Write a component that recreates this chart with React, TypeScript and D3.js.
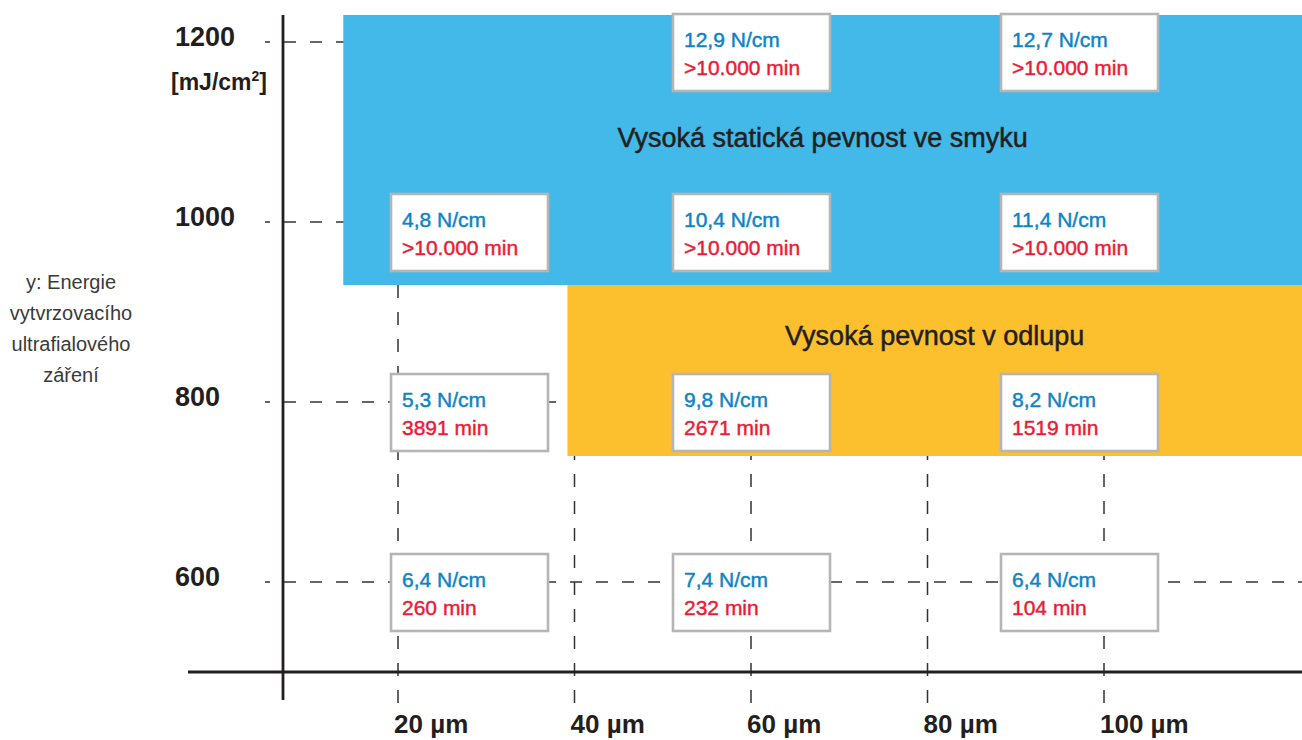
import * as d3 from "d3";
import * as React from "react";

// energy levels (mJ/cm²) and film thickness ticks (µm)
const energyLevels = [1200, 1000, 800, 600];
const thicknessTicks = [20, 40, 60, 80, 100];
const boxColumns = [20, 60, 100];

// peel strength N/cm per energy row, per box column (null = no box)
const peelStrength: (number | null)[][] = [
    [null, 12.9, 12.7],
    [4.8, 10.4, 11.4],
    [5.3, 9.8, 8.2],
    [6.4, 7.4, 6.4],
];
// static shear in minutes; 10000 means ">10.000"
const shearMinutes: (number | null)[][] = [
    [null, 10000, 10000],
    [10000, 10000, 10000],
    [3891, 2671, 1519],
    [260, 232, 104],
];

const bandNames = ["Vysoká statická pevnost ve smyku", "Vysoká pevnost v odlupu"];
const bandThickness = [[13.8, 122.5], [39.2, 122.5]];
const bandEnergy = [[930, 1230], [740, 930]];
const bandLabelEnergy = [1083, 863];

const yTitle = ["y: Energie", "vytvrzovacího", "ultrafialového", "záření"];

const W = 1302;
const H = 740;
const FONT = "'Liberation Sans', Arial, sans-serif";
const DARK = "#231f20";
const BLUE_BAND = "#42b9e9";
const ORANGE_BAND = "#fcbf2d";
const BLUE_TEXT = "#0b84c7";
const RED_TEXT = "#ec1b35";

// box layout (pixels relative to column grid line)
const boxOffsets = [-7, -78, -103];
const boxW = 157;
const boxH = 77;

const cz = d3.formatLocale({ decimal: ",", thousands: ".", grouping: [3], currency: ["", " Kč"] });
const fmtPeel = cz.format(".1f");
const fmtBig = cz.format(",d");
const fmtMin = (v: number) => (v >= 10000 ? ">" + fmtBig(v) : d3.format("d")(v));

export default function App(): JSX.Element {
    const x = d3.scaleLinear().domain([20, 100]).range([398, 1104]);
    const y = d3.scaleLinear().domain([600, 1200]).range([582, 42]);

    const axisX = 283;
    const axisY = y(500);

    return (
        <svg width={W} height={H} style={{ position: "absolute", left: 0, top: 0, background: "#fff" }}
            fontFamily={FONT}>
            {/* vertical dashed grid */}
            {thicknessTicks.map(t => (
                <line key={"v" + t} x1={x(t)} x2={x(t)} y1={y(1230)} y2={705}
                    stroke="#333" strokeWidth={1.5} strokeDasharray="13 14" />
            ))}
            {/* horizontal dashed grid */}
            {energyLevels.map(e => (
                <line key={"h" + e} x1={265} x2={W} y1={y(e)} y2={y(e)}
                    stroke="#333" strokeWidth={1.5} strokeDasharray="12 14" strokeDashoffset={7} />
            ))}

            {/* bands */}
            {bandNames.map((n, i) => (
                <rect key={"b" + i}
                    x={x(bandThickness[i][0])} y={y(bandEnergy[i][1])}
                    width={x(bandThickness[i][1]) - x(bandThickness[i][0])}
                    height={y(bandEnergy[i][0]) - y(bandEnergy[i][1])}
                    fill={i === 0 ? BLUE_BAND : ORANGE_BAND} />
            ))}
            {bandNames.map((n, i) => (
                <text key={"bl" + i}
                    x={(x(bandThickness[i][0]) + Math.min(W, x(bandThickness[i][1]))) / 2}
                    y={y(bandLabelEnergy[i])} textAnchor="middle" fontSize={27} fill={DARK}
                    stroke={DARK} strokeWidth={0.5}>
                    {n}
                </text>
            ))}

            {/* axes */}
            <line x1={axisX} x2={axisX} y1={y(1230)} y2={700} stroke={DARK} strokeWidth={2.8} />
            <line x1={188} x2={W} y1={axisY} y2={axisY} stroke={DARK} strokeWidth={2.8} />

            {/* y tick labels */}
            {energyLevels.map(e => (
                <text key={"yl" + e} x={175} y={y(e) + 4} fontSize={27} fontWeight="bold" fill={DARK}>
                    {e}
                </text>
            ))}
            <text x={171} y={90} fontSize={23} fontWeight="bold" fill={DARK}>
                [mJ/cm<tspan fontSize={14} dy={-9}>2</tspan><tspan dy={9}>]</tspan>
            </text>

            {/* y title */}
            {yTitle.map((t, i) => (
                <text key={"yt" + i} x={71} y={289 + i * 31} textAnchor="middle" fontSize={20} fill="#3a3a3a">
                    {t}
                </text>
            ))}

            {/* x tick labels */}
            {thicknessTicks.map(t => (
                <text key={"xl" + t} x={x(t) - 4} y={733} fontSize={26} fontWeight="bold" fill={DARK}>
                    {t} µm
                </text>
            ))}

            {/* value boxes */}
            {energyLevels.map((e, r) => boxColumns.map((c, k) => {
                const p = peelStrength[r][k];
                const s = shearMinutes[r][k];
                if (p === null || s === null) return null;
                const bx = x(c) + boxOffsets[k];
                const by = y(e) - 28;
                return (
                    <g key={`box${e}-${c}`}>
                        <rect x={bx} y={by} width={boxW} height={boxH} fill="#fff"
                            stroke="#b5b5b5" strokeWidth={2.6} />
                        <text x={bx + 11} y={by + 33} fontSize={21} fill={BLUE_TEXT}
                            stroke={BLUE_TEXT} strokeWidth={0.45}>
                            {fmtPeel(p)} N/cm
                        </text>
                        <text x={bx + 11} y={by + 61} fontSize={21} fill={RED_TEXT}
                            stroke={RED_TEXT} strokeWidth={0.45}>
                            {fmtMin(s)} min
                        </text>
                    </g>
                );
            }))}
        </svg>
    );
}
